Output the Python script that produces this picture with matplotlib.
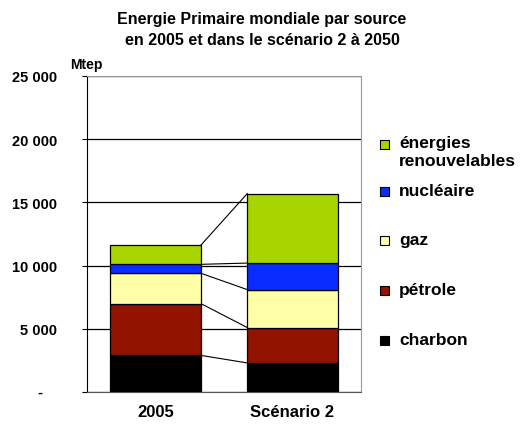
import matplotlib.pyplot as plt
import numpy as np
from matplotlib.patches import Rectangle

plt.rcParams['font.family'] = ['Liberation Sans', 'DejaVu Sans']
plt.rcParams['font.weight'] = 'bold'

# ---------------------------------------------------------------------------- #

categories = ["2005", "Scénario 2"]
sources = ["charbon", "pétrole", "gaz", "nucléaire", "énergies\nrenouvelables"]
values = {
    "charbon": [2900, 2300],
    "pétrole": [4100, 2800],
    "gaz": [2400, 3000],
    "nucléaire": [700, 2100],
    "énergies\nrenouvelables": [1500, 5500],
}
colors = ["#000000", "#921300", "#FFFFA8", "#0A2DFF", "#A8D400"]
y_ticks = [0, 5000, 10000, 15000, 20000, 25000]
y_tick_labels = ["", "5 000", "10 000", "15 000", "20 000", "25 000"]

# ---------------------------------------------------------------------------- #

fig = plt.figure(figsize=(5.25, 4.27), dpi=100)
ax = fig.add_axes([87 / 525, 1 - 393 / 427, 274 / 525, 316 / 427])

xs = np.arange(len(categories))
width = 0.66
bottom = np.zeros(len(categories))
for source, color in zip(sources, colors):
    vals = np.array(values[source], dtype=float)
    ax.bar(xs, vals, width, bottom=bottom, color=color, edgecolor="black",
           linewidth=0.9, zorder=3)
    bottom = bottom + vals
    # series lines between the two stacks
    ax.plot([xs[0] + width / 2, xs[1] - width / 2], [bottom[0], bottom[1]],
            color="black", linewidth=0.8, zorder=2)

ax.set_xlim(-0.5, 1.5)
ax.set_ylim(0, 25000)
ax.set_yticks(y_ticks)
ax.set_yticklabels(y_tick_labels, fontsize=10.5, fontweight="bold")
ax.text(-0.173, 0, "-", transform=ax.get_yaxis_transform(), ha="center",
        va="center", fontsize=10.5, fontweight="bold")
ax.set_xticks(xs)
ax.set_xticklabels(categories, fontsize=12, fontweight="bold")
ax.tick_params(axis="x", length=0, pad=9)
ax.tick_params(axis="y", length=3.6, width=0.8, pad=18)
ax.yaxis.grid(True, color="black", linewidth=0.9, zorder=0)
ax.set_axisbelow(True)

ax.spines["left"].set_color("black")
ax.spines["bottom"].set_color("#555555")
ax.spines["top"].set_color("#999999")
ax.spines["right"].set_color("#999999")

fig.text(70 / 525, 1 - 65 / 427, "Mtep", fontsize=10, fontweight="bold",
         va="center", ha="left")
fig.text(262 / 525, 1 - 30 / 427,
         "Energie Primaire mondiale par source\nen 2005 et dans le scénario 2 à 2050",
         fontsize=11.5, fontweight="bold", ha="center", va="center",
         linespacing=1.55)

# legend, drawn by hand to keep the Excel spacing
legend_y = [341, 291, 241, 192, 145]
for source, color, ly in zip(sources, colors, legend_y):
    fig.patches.append(Rectangle((380 / 525, 1 - (ly + 4.5) / 427), 9 / 525, 9 / 427,
                                 facecolor=color, edgecolor="black", linewidth=0.8,
                                 transform=fig.transFigure, figure=fig))
    if "\n" in source:
        fig.text(399 / 525, 1 - (ly - 9) / 427, source, fontsize=12.5,
                 fontweight="bold", ha="left", va="top", linespacing=1.25)
    else:
        fig.text(399 / 525, 1 - ly / 427, source, fontsize=12.5,
                 fontweight="bold", ha="left", va="center")

fig.savefig("out.png", dpi=100)
